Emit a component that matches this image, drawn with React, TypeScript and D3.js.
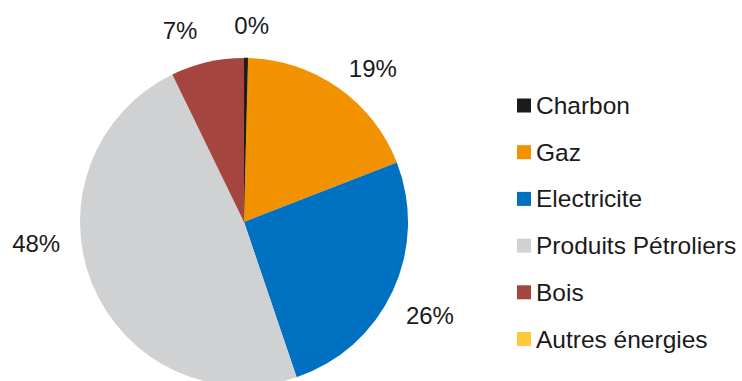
import React from "react";
import * as d3 from "d3";

const categories = ["Charbon", "Gaz", "Electricite", "Produits Pétroliers", "Bois", "Autres énergies"];
const values = [0.4, 18.7, 25.7, 48.0, 7.2, 0.0];
const colors = ["#1b1b1b", "#f39200", "#0070c0", "#d0d1d3", "#a4463f", "#fdc83a"];
// label placement tweaks (degrees offset from slice mid-angle, radius)
const labelAngleShift = [1.5, 5, 1.6, 16.3, -5.5, 0];
const labelRadius = [197, 200, 208, 209, 202, 200];

const W = 742;
const H = 381;
const cx = 244;
const cy = 222;
const R = 164;

export default function App() {
  const pie = d3.pie<number>().sort(null).value((d) => d).startAngle(0).endAngle(2 * Math.PI);
  const arcs = pie(values);
  const arcGen = d3.arc<d3.PieArcDatum<number>>().innerRadius(0).outerRadius(R);
  const total = d3.sum(values);
  const font = "'Liberation Sans', Arial, sans-serif";
  const legendY = d3.scalePoint<string>().domain(categories).range([105.5, 339]);

  return (
    <svg width={W} height={H} style={{ position: "absolute", left: 0, top: 0, background: "#fff" }}>
      <g transform={`translate(${cx},${cy})`}>
        {arcs.map((a, i) => (
          <path key={i} d={arcGen(a) || ""} fill={colors[i]} stroke={i === 0 ? "#3a2a10" : "none"} strokeWidth={0.6} />
        ))}
        {arcs.map((a, i) => {
          if (values[i] <= 0) return null;
          const mid = (a.startAngle + a.endAngle) / 2 + (labelAngleShift[i] * Math.PI) / 180;
          const r = labelRadius[i];
          const x = r * Math.sin(mid);
          const y = -r * Math.cos(mid);
          return (
            <text key={i} x={x} y={y} dy="0.35em" textAnchor="middle" fontFamily={font} fontSize={24} fill="#1a1a1a">
              {`${Math.round((values[i] / total) * 100)}%`}
            </text>
          );
        })}
      </g>
      <g>
        {categories.map((c, i) => (
          <g key={c} transform={`translate(517,${legendY(c)})`}>
            <rect x={0} y={-7} width={14} height={14} fill={colors[i]} />
            <text x={19} y={0} dy="0.35em" fontFamily={font} fontSize={24.5} fill="#1a1a1a">
              {c}
            </text>
          </g>
        ))}
      </g>
    </svg>
  );
}
